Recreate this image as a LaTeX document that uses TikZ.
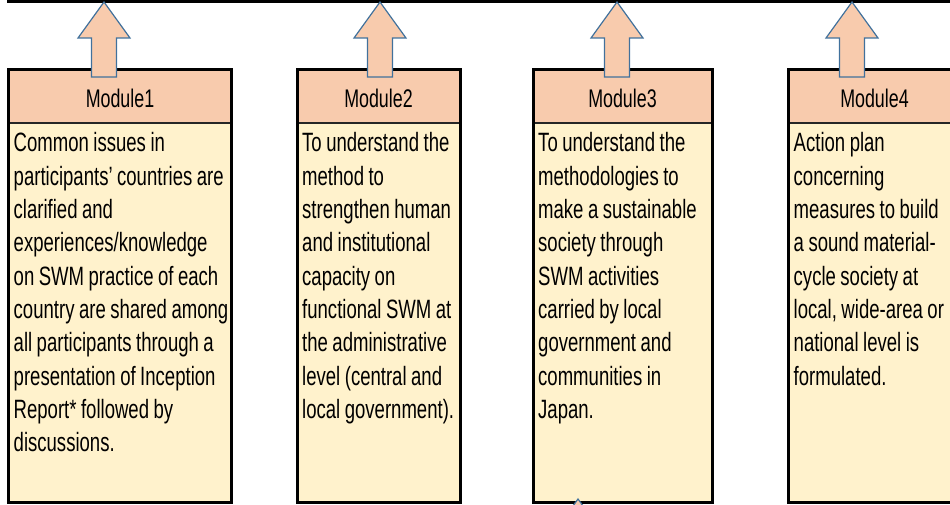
\documentclass[tikz,border=0pt]{standalone}
\usepackage{fontspec}
\setmainfont[FakeStretch=0.70]{Liberation Sans}
\usetikzlibrary{positioning}
\definecolor{headfill}{HTML}{F8CBAD}
\definecolor{bodyfill}{HTML}{FFF2CC}
\definecolor{arrowline}{HTML}{41719C}
\tikzset{
    modhead/.style={draw=black!85, line width=1.5pt, fill=headfill,
        minimum height=53pt, outer sep=0pt, inner sep=0pt,
        text height=23pt, text depth=0pt,
        font=\fontsize{25.5}{31}\selectfont},
    modbody/.style={draw=black!85, line width=1.5pt, fill=bodyfill,
        minimum height=379pt, outer sep=0pt, inner sep=0pt},
    modtext/.style={anchor=base west, align=left, inner sep=0pt,
        text width=#1, font=\fontsize{26.5}{33.3}\selectfont,
        execute at begin node={\spaceskip=4.5pt plus 1pt\relax}},
    modframe/.style={draw=black, line width=3pt},
    uparrow/.style={draw=arrowline, line width=1.2pt, fill=headfill,
        line join=miter}
}
\begin{document}
\begin{tikzpicture}[x=1pt, y=1pt]
        \useasboundingbox (0,0) rectangle (950,504);
        \clip (0,0) rectangle (950,504);
        \coordinate (topL) at (7,502.5);
        \coordinate (topR) at (952,502.5);
        \draw[line width=3pt] (topL) -- (topR);

        \node[modhead, minimum width=223pt] (m1h) at (120,407.5) {Module1};
        \node[modbody, minimum width=223pt, below=0pt of m1h] (m1b) {};
        \node[modtext=260pt,
              at={(m1b.north west)}, xshift=5pt, yshift=-29pt] (m1t)
            {Common issues in\\
             participants’ countries are\\
             clarified and\\
             experiences/knowledge\\
             on SWM practice of each\\
             country are shared among\\
             all participants through a\\
             presentation of Inception\\
             Report* followed by\\
             discussions.};

        \node[modhead, minimum width=163pt] (m2h) at (378.5,407.5) {Module2};
        \node[modbody, minimum width=163pt, below=0pt of m2h] (m2b) {};
        \node[modtext=200pt,
              at={(m2b.north west)}, xshift=5pt, yshift=-29pt] (m2t)
            {To understand the\\
             method to\\
             strengthen human\\
             and institutional\\
             capacity on\\
             functional SWM at\\
             the administrative\\
             level (central and\\
             local government).};

        \node[modhead, minimum width=179pt] (m3h) at (622.5,407.5) {Module3};
        \node[modbody, minimum width=179pt, below=0pt of m3h] (m3b) {};
        \node[modtext=200pt,
              at={(m3b.north west)}, xshift=5pt, yshift=-29pt] (m3t)
            {To understand the\\
             methodologies to\\
             make a sustainable\\
             society through\\
             SWM activities\\
             carried by local\\
             government and\\
             communities in\\
             Japan.};

        \node[modhead, minimum width=172pt] (m4h) at (874.5,407.5) {Module4};
        \node[modbody, minimum width=172pt, below=0pt of m4h] (m4b) {};
        \node[modtext=200pt,
              at={(m4b.north west)}, xshift=5pt, yshift=-29pt] (m4t)
            {Action plan\\
             concerning\\
             measures to build\\
             a sound material-\\
             cycle society at\\
             local, wide-area or\\
             national level is\\
             formulated.};

        \foreach \m in {1,2,3,4}
            \draw[modframe] (m\m h.north west) rectangle (m\m b.south east);

        \foreach \m/\dx in {1/-16, 2/1.5, 3/-5.5, 4/-22.5}
            \draw[uparrow]
                ([xshift=\dx pt-12.5pt, yshift=-7pt]m\m h.north)
                -- ++(0,39) -- ++(-13.5,0) -- ++(26,36)
                -- ++(26,-36) -- ++(-13.5,0) -- ++(0,-39) -- cycle;

        \coordinate (nexttip) at (578,5);
        \draw[uparrow] (nexttip) -- ++(26,-36) -- ++(-52,0) -- cycle;
\end{tikzpicture}
\end{document}
